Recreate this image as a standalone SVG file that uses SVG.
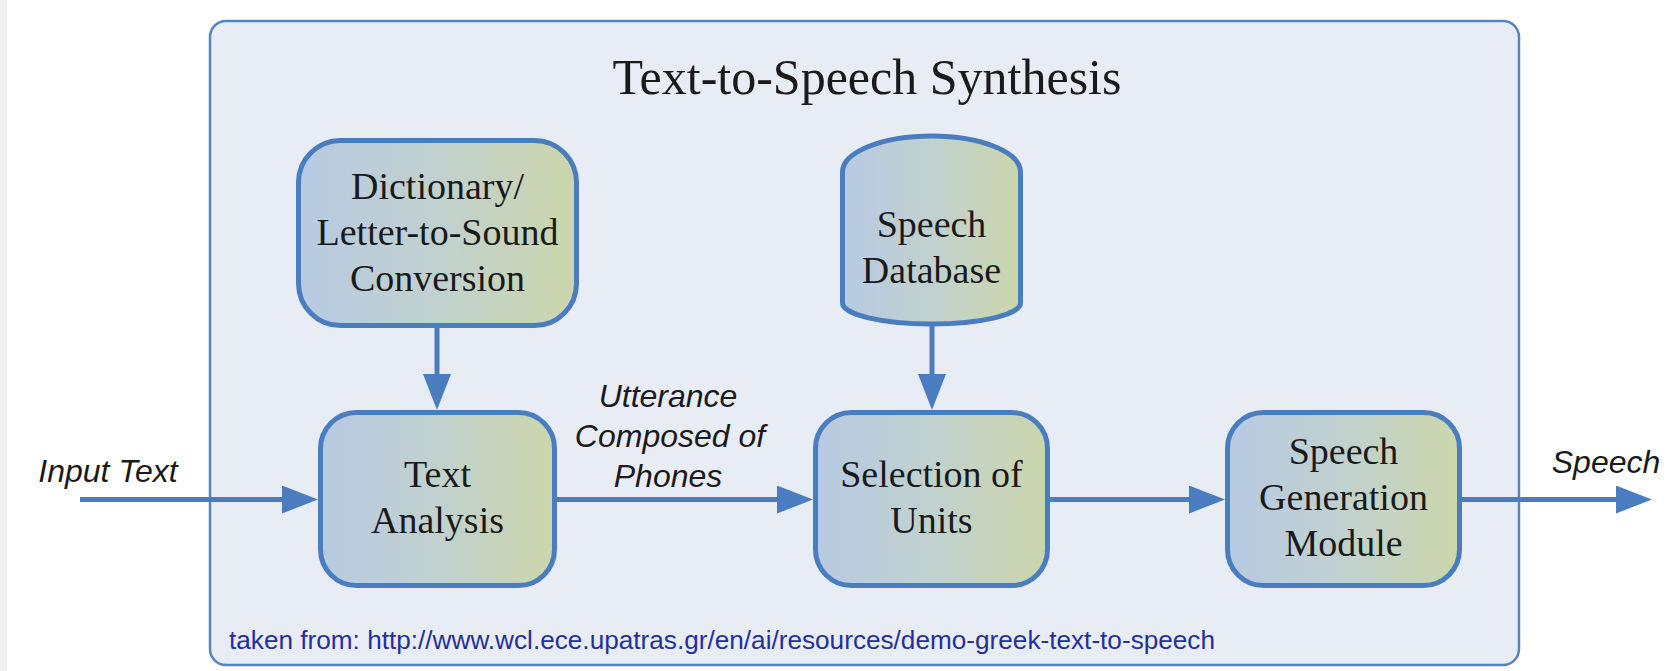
<svg xmlns="http://www.w3.org/2000/svg" width="1671" height="671" viewBox="0 0 1671 671">
<style>
.box{stroke:#4a7dbf;stroke-width:5;fill:url(#g)}
.lbl{font-family:"Liberation Serif","Times New Roman",serif;font-size:38px;fill:#1a1a1a;text-anchor:middle}
.it{font-family:"Liberation Sans",Arial,sans-serif;font-style:italic;font-size:32px;fill:#1a1a1a;text-anchor:middle}
.conn{stroke:#4a7dc0;stroke-width:5;fill:none;marker-end:url(#ah)}
</style>
<defs>
<linearGradient id="g" x1="0" y1="0" x2="1" y2="0">
<stop offset="0" stop-color="#b7cae3"/>
<stop offset="0.5" stop-color="#c1d1cf"/>
<stop offset="1" stop-color="#cbd6ab"/>
</linearGradient>
<marker id="ah" markerUnits="userSpaceOnUse" markerWidth="36" markerHeight="28" viewBox="0 0 36 28" refX="6" refY="14" orient="auto">
<path d="M0,0 L36,14 L0,28 Z" fill="#4a7dc0"/>
</marker>
</defs>
<rect x="0" y="0" width="1671" height="671" fill="#ffffff"/>
<rect x="0" y="0" width="7" height="671" fill="#f1f1f1"/>
<g id="container">
<rect x="210" y="21" width="1309" height="644" rx="16" fill="#e8ecf5" stroke="#5584c2" stroke-width="2.5"/>
<text x="867" y="94" font-family="Liberation Serif, Times New Roman, serif" font-size="50" fill="#1a1a1a" text-anchor="middle">Text-to-Speech Synthesis</text>
<text x="229" y="649" font-family="Liberation Sans, Arial, sans-serif" font-size="25" fill="#25309a" textLength="986" lengthAdjust="spacingAndGlyphs">taken from: http://www.wcl.ece.upatras.gr/en/ai/resources/demo-greek-text-to-speech</text>
</g>
<g id="connectors">
<path class="conn" d="M80,499.5 H288"/>
<path class="conn" d="M557,499.5 H783"/>
<path class="conn" d="M1050,499.5 H1195"/>
<path class="conn" d="M1462,499.5 H1622"/>
<path class="conn" d="M437,327 V380"/>
<path class="conn" d="M932,325 V380"/>
</g>
<g id="labels">
<text class="it" x="108" y="482">Input Text</text>
<text class="it" x="668" y="407">Utterance</text>
<text class="it" x="670" y="447">Composed of</text>
<text class="it" x="668" y="487">Phones</text>
<text class="it" x="1606" y="473">Speech</text>
</g>
<g id="dictionary">
<rect class="box" x="298.5" y="140.5" width="278" height="185" rx="42"/>
<text class="lbl" x="437.5" y="199">Dictionary/</text>
<text class="lbl" x="437.5" y="245">Letter-to-Sound</text>
<text class="lbl" x="437.5" y="291">Conversion</text>
</g>
<g id="database">
<path class="box" d="M842.5,172 A89,36 0 0 1 1020.5,172 L1020.5,303 A89,21 0 0 1 842.5,303 Z"/>
<text class="lbl" x="931.5" y="237">Speech</text>
<text class="lbl" x="931.5" y="283">Database</text>
</g>
<g id="text-analysis">
<rect class="box" x="320.5" y="412.5" width="234" height="173" rx="36"/>
<text class="lbl" x="437.5" y="487">Text</text>
<text class="lbl" x="437.5" y="533">Analysis</text>
</g>
<g id="selection">
<rect class="box" x="815.5" y="412.5" width="232" height="173" rx="36"/>
<text class="lbl" x="931.5" y="487">Selection of</text>
<text class="lbl" x="931.5" y="533">Units</text>
</g>
<g id="speech-generation">
<rect class="box" x="1227.5" y="412.5" width="232" height="173" rx="36"/>
<text class="lbl" x="1343.5" y="464">Speech</text>
<text class="lbl" x="1343.5" y="510">Generation</text>
<text class="lbl" x="1343.5" y="556">Module</text>
</g>
</svg>
